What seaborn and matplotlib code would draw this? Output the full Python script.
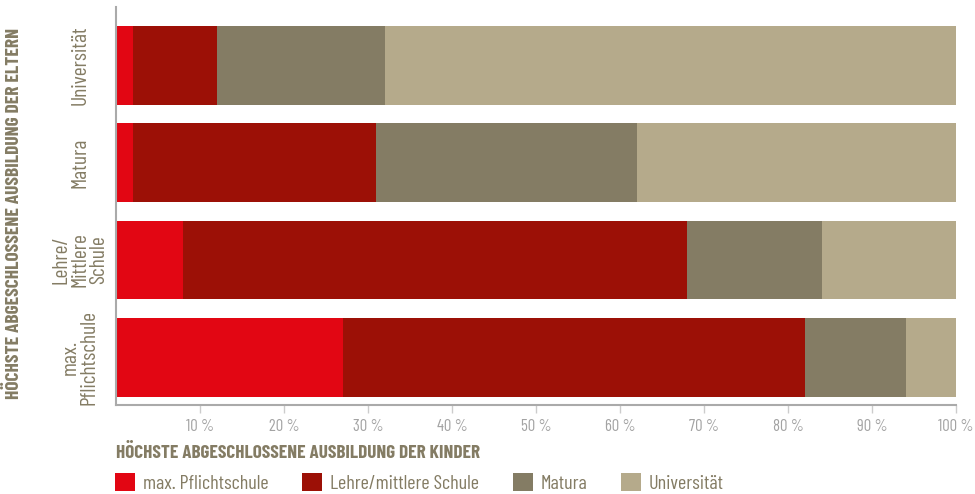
import matplotlib
matplotlib.use("Agg")
import matplotlib.pyplot as plt
from matplotlib.patches import Patch
import numpy as np
import pandas as pd
import seaborn as sns

# Ausbildung der Eltern (y) x Ausbildung der Kinder (Anteile in %)
eltern = ["Universität", "Matura", "Lehre/\nMittlere\nSchule", "max.\nPflichtschule"]
kinder = ["max. Pflichtschule", "Lehre/mittlere Schule", "Matura", "Universität"]
pflicht = [2, 2, 8, 27]
lehre = [10, 29, 60, 55]
matura = [20, 31, 16, 12]
uni = [68, 38, 16, 6]

farben = ["#E20613", "#9C1006", "#847C64", "#B5AA8B"]
braun = "#847C64"
grau = "#A3A3A3"

sns.set_style("white")
plt.rcParams["font.family"] = ["Barlow Condensed", "Roboto Condensed", "Asap Condensed", "DejaVu Sans"]

df = pd.DataFrame({"eltern": eltern, kinder[0]: pflicht, kinder[1]: lehre,
                   kinder[2]: matura, kinder[3]: uni})
cum = df[kinder].cumsum(axis=1)
cum["eltern"] = df["eltern"]

fig, ax = plt.subplots(figsize=(9.75, 4.94), dpi=100)
fig.subplots_adjust(left=116 / 975, right=956 / 975, top=1 - 7 / 494, bottom=1 - 405 / 494)

# gestapelt: von der größten Summe zur kleinsten zeichnen
for k, c in reversed(list(zip(kinder, farben))):
    sns.barplot(data=cum, x=k, y="eltern", order=eltern, color=c, orient="h",
                width=0.81, saturation=1, ax=ax, edgecolor="none")

ax.set_xlim(0, 100)
ax.set_ylim(3.49, -0.6)
ax.set_xticks(np.arange(10, 101, 10))
ax.set_xticklabels([f"{v} %" for v in range(10, 101, 10)], color=grau, fontsize=12)
ax.tick_params(axis="x", length=6, width=1, color="#cccccc", pad=4, direction="out", bottom=True)
ax.tick_params(axis="y", length=0)
for lab in ax.get_yticklabels():
    lab.set_rotation(90)
    lab.set_va("center")
    lab.set_ha("center")
    lab.set_multialignment("center")
    lab.set_linespacing(1.0)
    lab.set_color(braun)
    lab.set_fontsize(15.5)
ax.yaxis.set_tick_params(pad=26)

for s in ["top", "right"]:
    ax.spines[s].set_visible(False)
for s in ["left", "bottom"]:
    ax.spines[s].set_color("#aaaaaa")
    ax.spines[s].set_linewidth(1.5)

ax.set_xlabel("")
ax.set_ylabel("")
fig.text(14 / 975, 1 - 213 / 494, "HÖCHSTE ABGESCHLOSSENE AUSBILDUNG DER ELTERN",
         rotation=90, ha="center", va="center", color=braun, fontsize=14, fontweight="bold")
fig.text(116 / 975, 1 - 453 / 494, "HÖCHSTE ABGESCHLOSSENE AUSBILDUNG DER KINDER",
         ha="left", va="center", color=braun, fontsize=13.8, fontweight="bold")

handles = [Patch(facecolor=c, edgecolor="none", label=k) for k, c in zip(kinder, farben)]
leg = fig.legend(handles=handles, loc="center left", bbox_to_anchor=(107 / 975, 1 - 483 / 494),
                 ncol=4, frameon=False, fontsize=14.5, handlelength=1.0, handleheight=1.0,
                 handletextpad=0.4, columnspacing=1.65, borderaxespad=0)
for t in leg.get_texts():
    t.set_color(braun)

fig.savefig("out.png", dpi=100)
